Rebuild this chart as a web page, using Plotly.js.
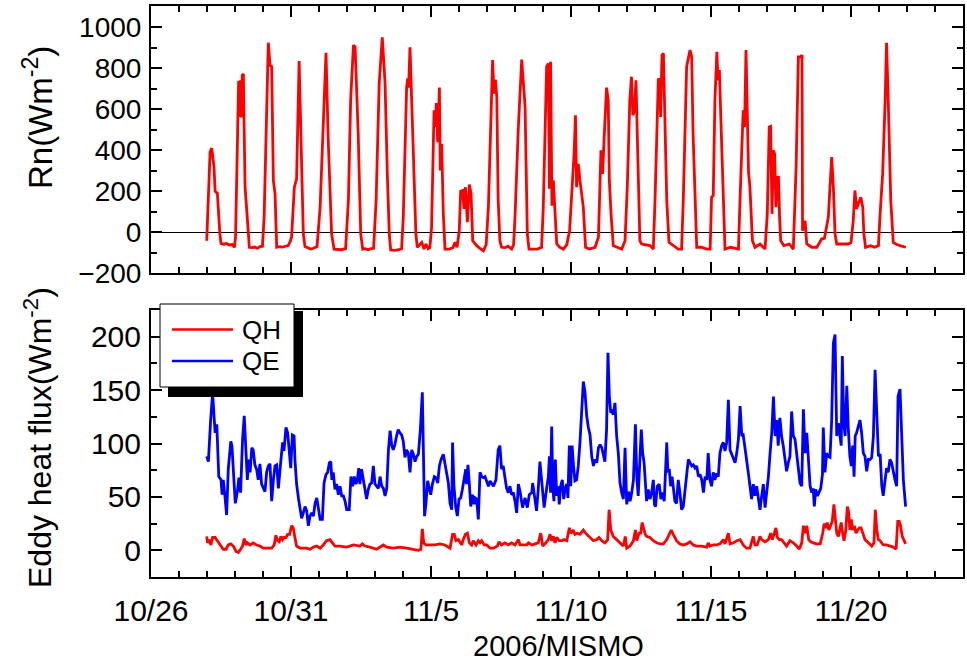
<!DOCTYPE html>
<html>
<head>
<meta charset="utf-8">
<script src="https://cdn.plot.ly/plotly-3.0.1.min.js"></script>
<style>html,body{margin:0;padding:0;background:#fff;}</style>
</head>
<body>
<div id="chart" style="width:967px;height:668px;"></div>
<script>
// x values: days since 2006-10-26 00:00
const tickDays = [0, 5, 10, 15, 20, 25];
const tickLabels = ['10/26', '10/31', '11/5', '11/10', '11/15', '11/20'];

const rnDay = [1.99,2.11,2.17,2.25,2.29,2.37,2.46,2.50,2.60,2.70,2.80,2.90,2.98,3.02,3.13,3.17,3.20,3.23,3.26,3.30,3.32,3.36,3.48,3.51,3.60,3.70,3.80,3.90,3.98,4.04,4.19,4.25,4.31,4.37,4.43,4.49,4.60,4.70,4.80,4.90,4.97,5.02,5.12,5.20,5.29,5.35,5.44,5.50,5.60,5.70,5.80,5.93,6.04,6.15,6.25,6.33,6.45,6.54,6.65,6.80,6.95,7.05,7.13,7.23,7.29,7.40,7.49,7.56,7.65,7.75,7.85,7.95,8.04,8.15,8.26,8.36,8.44,8.51,8.56,8.70,8.85,8.95,9.01,9.13,9.17,9.20,9.25,9.31,9.39,9.46,9.51,9.60,9.67,9.75,9.82,9.90,9.96,10.02,10.11,10.15,10.19,10.24,10.30,10.33,10.38,10.44,10.50,10.65,10.78,10.86,10.93,11.01,11.06,11.13,11.18,11.23,11.30,11.37,11.43,11.49,11.63,11.75,11.87,11.97,12.05,12.20,12.25,12.30,12.35,12.40,12.46,12.52,12.65,12.75,12.88,12.95,13.00,13.12,13.24,13.36,13.44,13.50,13.65,13.80,13.95,14.01,14.13,14.19,14.23,14.27,14.32,14.37,14.42,14.49,14.60,14.73,14.85,14.95,15.11,15.16,15.20,15.26,15.32,15.44,15.52,15.65,15.86,15.98,16.07,16.13,16.18,16.27,16.33,16.37,16.43,16.51,16.65,16.81,16.93,17.01,17.10,17.16,17.21,17.27,17.32,17.38,17.46,17.52,17.65,17.82,17.94,18.00,18.12,18.17,18.20,18.25,18.30,18.33,18.42,18.50,18.65,18.83,18.95,19.01,19.13,19.25,19.31,19.36,19.49,19.65,19.85,19.97,20.02,20.08,20.14,20.21,20.25,20.30,20.35,20.44,20.50,20.70,20.98,21.06,21.15,21.20,21.25,21.30,21.34,21.39,21.48,21.57,21.75,21.93,22.01,22.08,22.13,22.18,22.23,22.27,22.32,22.37,22.41,22.45,22.49,22.60,22.80,22.94,23.04,23.12,23.20,23.25,23.27,23.36,23.42,23.60,23.78,23.95,24.05,24.19,24.25,24.31,24.37,24.43,24.49,24.70,24.90,25.00,25.08,25.14,25.20,25.26,25.35,25.42,25.46,25.52,25.70,25.85,25.98,26.04,26.13,26.22,26.27,26.33,26.42,26.51,26.60,26.75,26.96];
const rnVal = [-41,391,411,318,200,191,-8,-54,-58,-55,-62,-60,-73,-20,739,563,742,560,767,772,563,220,-8,-73,-75,-72,-78,-70,-68,73,925,816,808,253,188,-73,-70,-72,-68,-65,-45,-24,220,261,835,449,-8,-70,-75,-82,-78,-70,122,514,876,449,-8,-82,-82,-85,-80,155,644,913,905,481,-8,-82,-80,-85,-80,-78,155,726,951,726,285,-8,-86,-88,-85,-80,73,710,750,706,902,644,318,-8,-73,-60,-49,-82,-57,-80,-75,24,595,514,631,440,706,302,432,90,-82,-82,-75,-49,-73,8,200,204,114,220,49,233,188,-41,-65,-78,-90,-60,122,840,677,745,661,155,-41,-73,-75,-68,-82,-60,73,514,843,612,-8,-82,-82,-82,-73,122,808,824,212,832,130,253,122,-57,-73,-82,-60,8,383,571,220,334,253,122,-73,-82,-73,-24,400,285,449,706,644,253,90,-65,-73,-82,-41,220,644,759,571,595,742,351,-41,-57,-60,-65,-82,155,750,742,563,865,873,644,155,-49,-65,-82,-82,155,808,889,856,481,-73,-73,-82,-82,171,179,644,881,742,791,563,155,-82,-73,-82,253,595,514,889,563,294,220,-41,-73,-57,-82,90,514,517,90,400,383,122,269,269,73,-41,-65,-57,-82,318,856,856,865,8,57,-57,-73,-73,-33,-30,73,220,367,220,-8,-57,-57,-57,-50,57,204,114,139,171,122,-8,-73,-65,-73,-65,90,285,644,925,644,155,-49,-57,-65,-73];

const qeDay = [1.99,2.05,2.13,2.20,2.29,2.35,2.42,2.50,2.54,2.58,2.64,2.70,2.76,2.85,2.89,2.96,3.01,3.08,3.14,3.20,3.27,3.33,3.39,3.44,3.49,3.54,3.60,3.65,3.71,3.77,3.83,3.89,3.95,4.01,4.07,4.13,4.19,4.25,4.31,4.37,4.43,4.49,4.55,4.61,4.70,4.75,4.82,4.88,4.94,4.99,5.05,5.11,5.14,5.20,5.27,5.32,5.38,5.44,5.50,5.56,5.62,5.68,5.74,5.80,5.86,5.92,5.98,6.04,6.12,6.18,6.25,6.31,6.37,6.42,6.46,6.51,6.57,6.63,6.69,6.75,6.81,6.87,6.93,6.99,7.08,7.14,7.20,7.26,7.32,7.37,7.42,7.46,7.52,7.58,7.64,7.70,7.76,7.82,7.88,7.94,8.00,8.06,8.12,8.18,8.24,8.30,8.36,8.42,8.48,8.54,8.60,8.65,8.71,8.77,8.83,8.89,8.95,9.01,9.07,9.13,9.19,9.25,9.31,9.37,9.43,9.49,9.55,9.62,9.69,9.74,9.77,9.82,9.88,9.94,9.99,10.05,10.12,10.18,10.24,10.30,10.36,10.44,10.50,10.56,10.62,10.68,10.74,10.77,10.82,10.88,10.94,11.00,11.06,11.12,11.18,11.24,11.27,11.32,11.37,11.42,11.48,11.54,11.58,11.63,11.69,11.75,11.81,11.87,11.93,11.99,12.05,12.11,12.23,12.32,12.37,12.40,12.46,12.52,12.58,12.64,12.70,12.76,12.82,12.88,12.94,13.00,13.06,13.12,13.18,13.27,13.36,13.44,13.51,13.60,13.63,13.68,13.77,13.83,13.89,13.95,14.04,14.11,14.19,14.23,14.27,14.31,14.35,14.39,14.44,14.49,14.54,14.58,14.63,14.69,14.74,14.79,14.85,14.89,14.94,14.99,15.04,15.08,15.14,15.20,15.26,15.32,15.38,15.44,15.50,15.56,15.62,15.68,15.74,15.80,15.86,15.92,15.98,16.04,16.10,16.15,16.21,16.27,16.32,16.37,16.42,16.46,16.51,16.57,16.63,16.69,16.75,16.81,16.87,16.93,16.99,17.05,17.11,17.17,17.23,17.30,17.35,17.40,17.46,17.51,17.56,17.61,17.65,17.70,17.76,17.82,17.88,17.94,17.98,18.02,18.08,18.15,18.21,18.27,18.33,18.42,18.46,18.51,18.56,18.61,18.65,18.71,18.77,18.83,18.89,18.95,19.01,19.08,19.19,19.25,19.31,19.37,19.43,19.49,19.55,19.61,19.67,19.73,19.79,19.85,19.90,19.96,20.02,20.08,20.14,20.20,20.26,20.32,20.38,20.44,20.50,20.56,20.62,20.68,20.74,20.80,20.86,20.92,20.98,21.04,21.10,21.15,21.21,21.27,21.33,21.39,21.45,21.51,21.57,21.63,21.69,21.75,21.81,21.87,21.93,21.99,22.05,22.11,22.17,22.23,22.29,22.35,22.40,22.46,22.52,22.58,22.64,22.70,22.76,22.82,22.88,22.94,23.00,23.06,23.12,23.18,23.24,23.30,23.36,23.42,23.48,23.54,23.60,23.65,23.69,23.74,23.80,23.86,23.92,23.98,24.01,24.07,24.13,24.19,24.25,24.31,24.37,24.43,24.49,24.55,24.61,24.65,24.69,24.74,24.79,24.85,24.90,24.96,25.01,25.06,25.11,25.15,25.20,25.26,25.32,25.38,25.44,25.50,25.56,25.62,25.68,25.74,25.80,25.86,25.92,25.98,26.04,26.10,26.15,26.21,26.27,26.33,26.39,26.45,26.51,26.57,26.63,26.68,26.75,26.81,26.87,26.95];
const qeVal = [88,83,122,147,110,118,69,66,52,66,51,33,76,102,98,63,44,54,68,54,104,126,94,66,85,73,96,94,80,76,66,81,62,58,55,73,79,81,46,66,79,80,58,76,101,93,115,110,94,77,108,107,85,62,48,38,30,35,41,37,23,32,35,32,44,49,38,29,29,63,71,73,82,83,66,73,57,62,52,60,51,51,46,38,38,69,60,69,62,66,77,62,76,66,58,48,57,62,63,79,62,60,58,69,60,58,51,58,94,112,98,94,99,107,113,110,108,102,87,94,91,73,94,90,83,88,90,113,148,76,32,44,65,58,52,62,69,68,63,79,85,90,82,71,63,44,38,101,60,41,32,48,49,57,66,76,62,80,62,41,52,43,49,48,29,73,69,68,69,65,60,65,60,66,85,94,98,76,79,69,58,54,60,52,54,46,35,62,55,40,49,40,52,54,63,54,37,57,83,66,40,54,69,88,54,116,60,46,85,51,60,43,60,66,48,58,62,49,98,60,98,82,65,66,79,101,132,158,148,126,115,108,88,79,85,82,96,99,96,91,83,113,185,144,129,130,127,138,107,91,63,54,48,96,43,55,46,54,66,118,69,51,91,113,91,82,66,46,57,48,54,66,43,41,60,62,48,54,46,101,73,76,60,69,60,46,44,66,54,38,41,60,85,82,79,80,77,79,69,71,66,54,69,66,91,66,60,73,66,72,69,91,98,101,93,101,141,94,90,85,82,91,104,135,107,108,98,85,73,57,48,62,51,60,46,38,51,62,40,52,69,91,110,144,107,122,98,124,107,98,87,74,82,88,130,107,104,91,79,63,60,132,91,110,85,60,54,58,41,57,51,54,58,71,115,73,91,88,87,122,194,202,107,119,107,98,182,119,107,154,116,88,79,98,69,107,110,116,122,110,91,88,74,85,85,87,107,169,122,88,90,60,51,66,77,73,85,82,73,66,60,144,151,110,66,41];

const qhDay = [1.99,2.02,2.08,2.14,2.20,2.29,2.37,2.46,2.58,2.68,2.76,2.85,2.94,3.04,3.12,3.20,3.27,3.33,3.39,3.44,3.54,3.65,3.77,3.89,4.01,4.15,4.31,4.40,4.46,4.52,4.58,4.64,4.70,4.75,4.82,4.88,4.95,5.02,5.08,5.14,5.20,5.32,5.44,5.56,5.68,5.80,5.92,6.04,6.15,6.27,6.39,6.49,6.57,6.75,6.99,7.23,7.46,7.55,7.64,7.82,8.06,8.30,8.42,8.65,8.89,9.13,9.37,9.55,9.64,9.69,9.74,9.82,9.96,10.14,10.32,10.50,10.68,10.77,10.83,10.89,10.98,11.04,11.10,11.15,11.23,11.30,11.37,11.45,11.51,11.61,11.69,11.75,11.81,11.90,11.99,12.11,12.23,12.37,12.43,12.52,12.64,12.76,12.88,13.00,13.12,13.18,13.30,13.42,13.48,13.60,13.71,13.83,13.92,13.99,14.07,14.19,14.25,14.31,14.37,14.43,14.49,14.58,14.67,14.75,14.85,14.94,15.00,15.08,15.14,15.23,15.32,15.44,15.56,15.68,15.80,15.92,16.00,16.10,16.21,16.31,16.36,16.42,16.51,16.63,16.75,16.87,16.94,16.99,17.11,17.23,17.30,17.35,17.43,17.49,17.54,17.58,17.65,17.70,17.82,17.94,18.06,18.18,18.30,18.42,18.51,18.58,18.65,18.77,18.89,19.01,19.13,19.25,19.37,19.49,19.67,19.85,19.90,19.96,20.08,20.20,20.32,20.44,20.50,20.62,20.68,20.80,20.92,21.04,21.15,21.27,21.39,21.51,21.57,21.65,21.75,21.81,21.93,22.05,22.13,22.19,22.26,22.32,22.37,22.44,22.52,22.64,22.70,22.82,22.94,23.06,23.15,23.24,23.30,23.36,23.42,23.49,23.56,23.65,23.77,23.90,23.99,24.04,24.10,24.15,24.21,24.27,24.33,24.39,24.44,24.49,24.55,24.61,24.65,24.70,24.75,24.81,24.87,24.92,24.96,25.01,25.06,25.12,25.18,25.24,25.30,25.36,25.42,25.50,25.62,25.74,25.82,25.87,25.92,25.98,26.04,26.15,26.27,26.39,26.51,26.61,26.67,26.72,26.77,26.83,26.89,26.95];
const qhVal = [13,7,10,5,12,12,9,5,1,1,5,6,4,-1,-2,1,4,11,5,7,5,7,5,4,2,2,2,5,14,9,8,13,10,12,12,15,15,23,21,12,4,2,2,2,1,3,4,2,5,9,10,7,4,4,3,5,4,6,4,3,1,5,3,2,3,2,1,0,1,20,7,5,5,5,6,5,2,15,15,9,10,7,5,10,15,16,7,5,9,5,9,7,9,5,5,2,2,4,8,5,7,5,7,5,10,5,5,5,7,5,6,7,16,4,6,10,15,9,13,7,12,9,9,10,9,21,16,19,15,16,15,19,15,12,9,10,12,9,7,10,38,19,13,10,7,4,13,2,4,9,19,9,16,16,26,21,15,13,12,9,7,6,6,10,16,19,15,9,6,5,6,8,5,4,4,3,7,4,5,5,6,10,6,16,6,7,9,10,5,2,2,13,5,5,13,10,8,10,16,10,16,21,12,10,10,6,4,9,7,4,1,7,23,16,23,10,8,7,6,6,16,25,21,26,19,23,27,43,29,16,13,23,26,16,9,18,41,35,19,29,19,23,16,19,21,21,16,10,7,4,7,38,19,10,9,5,5,4,3,1,27,27,23,13,10,6];

const W = 967, H = 668, ML = 151, MR = 4, MT = 6, MB = 91;
const PW = W - ML - MR, PH = H - MT - MB;
const px = X => (X - ML) / PW;
const py = Y => (H - MB - Y) / PH;

const axisBase = {
  showline: true, linecolor: 'black', linewidth: 2, mirror: 'ticks',
  ticks: 'inside', ticklen: 11, tickwidth: 2, tickcolor: 'black',
  showgrid: false, zeroline: false
};
const xMinor = {tickmode: 'linear', tick0: 0, dtick: 1, ticks: 'inside', ticklen: 6, tickwidth: 2, tickcolor: 'black', showgrid: false};

const traces = [
  {x: rnDay, y: rnVal, xaxis: 'x', yaxis: 'y', type: 'scatter', mode: 'lines', name: 'Rn',
   line: {color: '#ff0000', width: 2.8}, showlegend: false},
  {x: qhDay, y: qhVal, xaxis: 'x2', yaxis: 'y2', type: 'scatter', mode: 'lines', name: 'QH',
   line: {color: '#ff0000', width: 2.8}, showlegend: false},
  {x: qeDay, y: qeVal, xaxis: 'x2', yaxis: 'y2', type: 'scatter', mode: 'lines', name: 'QE',
   line: {color: '#0000ff', width: 2.8}, showlegend: false}
];

const layout = {
  width: W, height: H,
  margin: {l: ML, r: MR, t: MT, b: MB, pad: 0},
  paper_bgcolor: 'white', plot_bgcolor: 'white',
  showlegend: false,
  font: {family: 'Liberation Sans, Arial, sans-serif', color: 'black'},
  xaxis: Object.assign({}, axisBase, {
    domain: [0, 1], anchor: 'y', range: [0, 29],
    tickmode: 'array', tickvals: tickDays, ticktext: tickLabels, showticklabels: false,
    minor: xMinor
  }),
  yaxis: Object.assign({}, axisBase, {
    domain: [py(273.3), 1], anchor: 'x', range: [-200, 1104],
    tickmode: 'linear', tick0: -200, dtick: 200,
    tickfont: {size: 28}, ticklabelstandoff: 2,
    minor: {tickmode: 'linear', tick0: -200, dtick: 100, ticks: 'inside', ticklen: 6, tickwidth: 2, tickcolor: 'black', showgrid: false},
    zeroline: true, zerolinecolor: 'black', zerolinewidth: 1.5
  }),
  xaxis2: Object.assign({}, axisBase, {
    domain: [0, 1], anchor: 'y2', range: [0, 29],
    tickmode: 'array', tickvals: tickDays, ticktext: tickLabels,
    tickfont: {size: 30}, ticklabelstandoff: 6,
    minor: xMinor
  }),
  yaxis2: Object.assign({}, axisBase, {
    domain: [0, py(310)], anchor: 'x2', range: [-25, 225],
    tickmode: 'linear', tick0: 0, dtick: 50,
    tickfont: {size: 30}, ticklabelstandoff: 2,
    minor: {tickmode: 'linear', tick0: 0, dtick: 25, ticks: 'inside', ticklen: 6, tickwidth: 2, tickcolor: 'black', showgrid: false}
  }),
  shapes: [
    // legend shadow
    {type: 'rect', xref: 'paper', yref: 'paper', x0: px(168), x1: px(303), y0: py(311), y1: py(397),
     fillcolor: 'black', line: {width: 0}, layer: 'above'},
    // legend box
    {type: 'rect', xref: 'paper', yref: 'paper', x0: px(160), x1: px(294), y0: py(304), y1: py(387),
     fillcolor: 'white', line: {color: 'black', width: 1}, layer: 'above'},
    {type: 'line', xref: 'paper', yref: 'paper', x0: px(172), x1: px(233), y0: py(329.5), y1: py(329.5),
     line: {color: '#ff0000', width: 2.5}, layer: 'above'},
    {type: 'line', xref: 'paper', yref: 'paper', x0: px(172), x1: px(233), y0: py(361), y1: py(361),
     line: {color: '#0000ff', width: 2.5}, layer: 'above'}
  ],
  annotations: [
    {text: 'QH', xref: 'paper', yref: 'paper', x: px(240), y: py(329.5), xanchor: 'left', yanchor: 'middle',
     showarrow: false, font: {size: 26}},
    {text: 'QE', xref: 'paper', yref: 'paper', x: px(240), y: py(361), xanchor: 'left', yanchor: 'middle',
     showarrow: false, font: {size: 26}},
    {text: 'Rn(Wm<sup>-2</sup>)', xref: 'paper', yref: 'paper', x: px(38), y: py(118), textangle: -90,
     xanchor: 'center', yanchor: 'middle', showarrow: false, font: {size: 33}},
    {text: 'Eddy heat flux(Wm<sup>-2</sup>)', xref: 'paper', yref: 'paper', x: px(38), y: py(438), textangle: -90,
     xanchor: 'center', yanchor: 'middle', showarrow: false, font: {size: 32}},
    {text: '2006/MISMO', xref: 'paper', yref: 'paper', x: px(558), y: py(646),
     xanchor: 'center', yanchor: 'middle', showarrow: false, font: {size: 29}}
  ]
};

Plotly.newPlot('chart', traces, layout, {displayModeBar: false, staticPlot: true});
</script>
</body>
</html>
